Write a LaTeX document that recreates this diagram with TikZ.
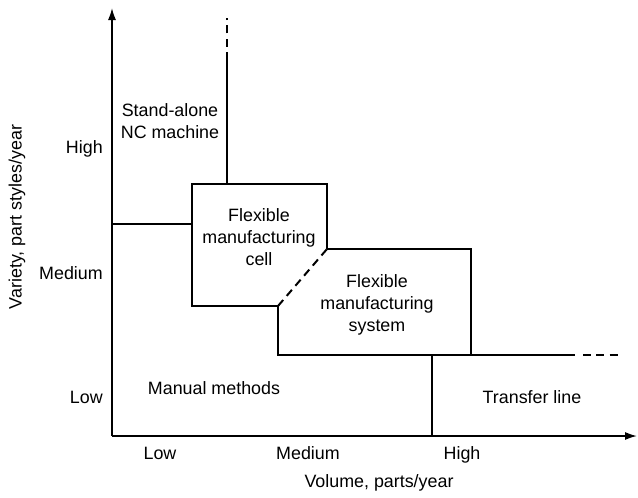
\documentclass[tikz,border=0pt]{standalone}
\usepackage{fontspec}
\setmainfont{Liberation Sans}
\usepackage{tikz}
\usetikzlibrary{arrows.meta,calc}

\tikzset{
  region/.style={line width=1.5pt},
  openend/.style={line width=1.5pt, dash pattern=on 6pt off 4pt},
  axis/.style={line width=1.2pt, -{Latex[length=9pt,width=6pt]}},
  lbl/.style={font=\fontsize{13.4}{16.5}\selectfont, inner sep=0pt, align=center}
}

\begin{document}
\begin{tikzpicture}[x=0.75pt,y=-0.75pt]
\useasboundingbox (0,0) rectangle (638,497);
% axes
\coordinate (O) at (112,436);
\coordinate (ytip) at (112,8);
\coordinate (xtip) at (637,436);
\draw[axis] (O) -- (ytip);
\draw[axis] (O) -- (xtip);
% corners of the regions
\coordinate (med) at (112,224);
\coordinate (fmcTL) at (192,184);
\coordinate (fmcTR) at (327,184);
\coordinate (fmcBL) at (192,306);
\coordinate (fmcBR) at (278,306);
\coordinate (fmsTL) at (327,249);
\coordinate (fmsTR) at (471,249);
\coordinate (fmsBL) at (278,355);
\coordinate (fmsBR) at (471,355);
\coordinate (ncTop) at (227,60);
\coordinate (ncEnd) at (227,18);
\coordinate (ncBot) at (227,184);
\coordinate (lowEnd) at (575,355);
\coordinate (lowDash) at (618,355);
\coordinate (tlTop) at (432,355);
\coordinate (tlBot) at (432,436);
% boundaries
\draw[region] (med) -- (fmcBL |- med);
\draw[region] (ncBot) -- (ncTop);
\draw[openend] (ncTop) -- (ncEnd);
\draw[region] (fmsTL) -- (fmcTR) -- (fmcTL) -- (fmcBL) -- (fmcBR) -- (fmsBL) -- (fmsBR) -- (fmsTR) -- (fmsTL);
\draw[openend] (fmcBR) -- (fmsTL);
\draw[region] (fmsBR) -- (lowEnd);
\draw[openend] ($(lowEnd)+(8,0)$) -- (lowDash);
\draw[region] (tlTop) -- (tlBot);
% region labels
\node[lbl] (nc) at (170,121) {Stand-alone\\NC machine};
\node[lbl] (fmc) at (259,237) {Flexible\\manufacturing\\cell};
\node[lbl] (fms) at (377,305) {Flexible\\manufacturing\\system};
\node[lbl] (man) at (214,388) {Manual methods};
\node[lbl] (tl) at (532,397) {Transfer line};
% axis labels
\node[lbl, anchor=base east] (yhi) at (103,153) {High};
\node[lbl, anchor=base east] (ymed) at (103,279) {Medium};
\node[lbl, anchor=base east] (ylow) at (103,403) {Low};
\node[lbl, anchor=base] (xlow) at (160,459) {Low};
\node[lbl, anchor=base] (xmed) at (308,459) {Medium};
\node[lbl, anchor=base] (xhi) at (462,459) {High};
\node[lbl] (xname) at (379,483) {Volume, parts/year};
\node[lbl, rotate=90] (yname) at (17,217) {Variety, part styles/year};
\end{tikzpicture}
\end{document}
